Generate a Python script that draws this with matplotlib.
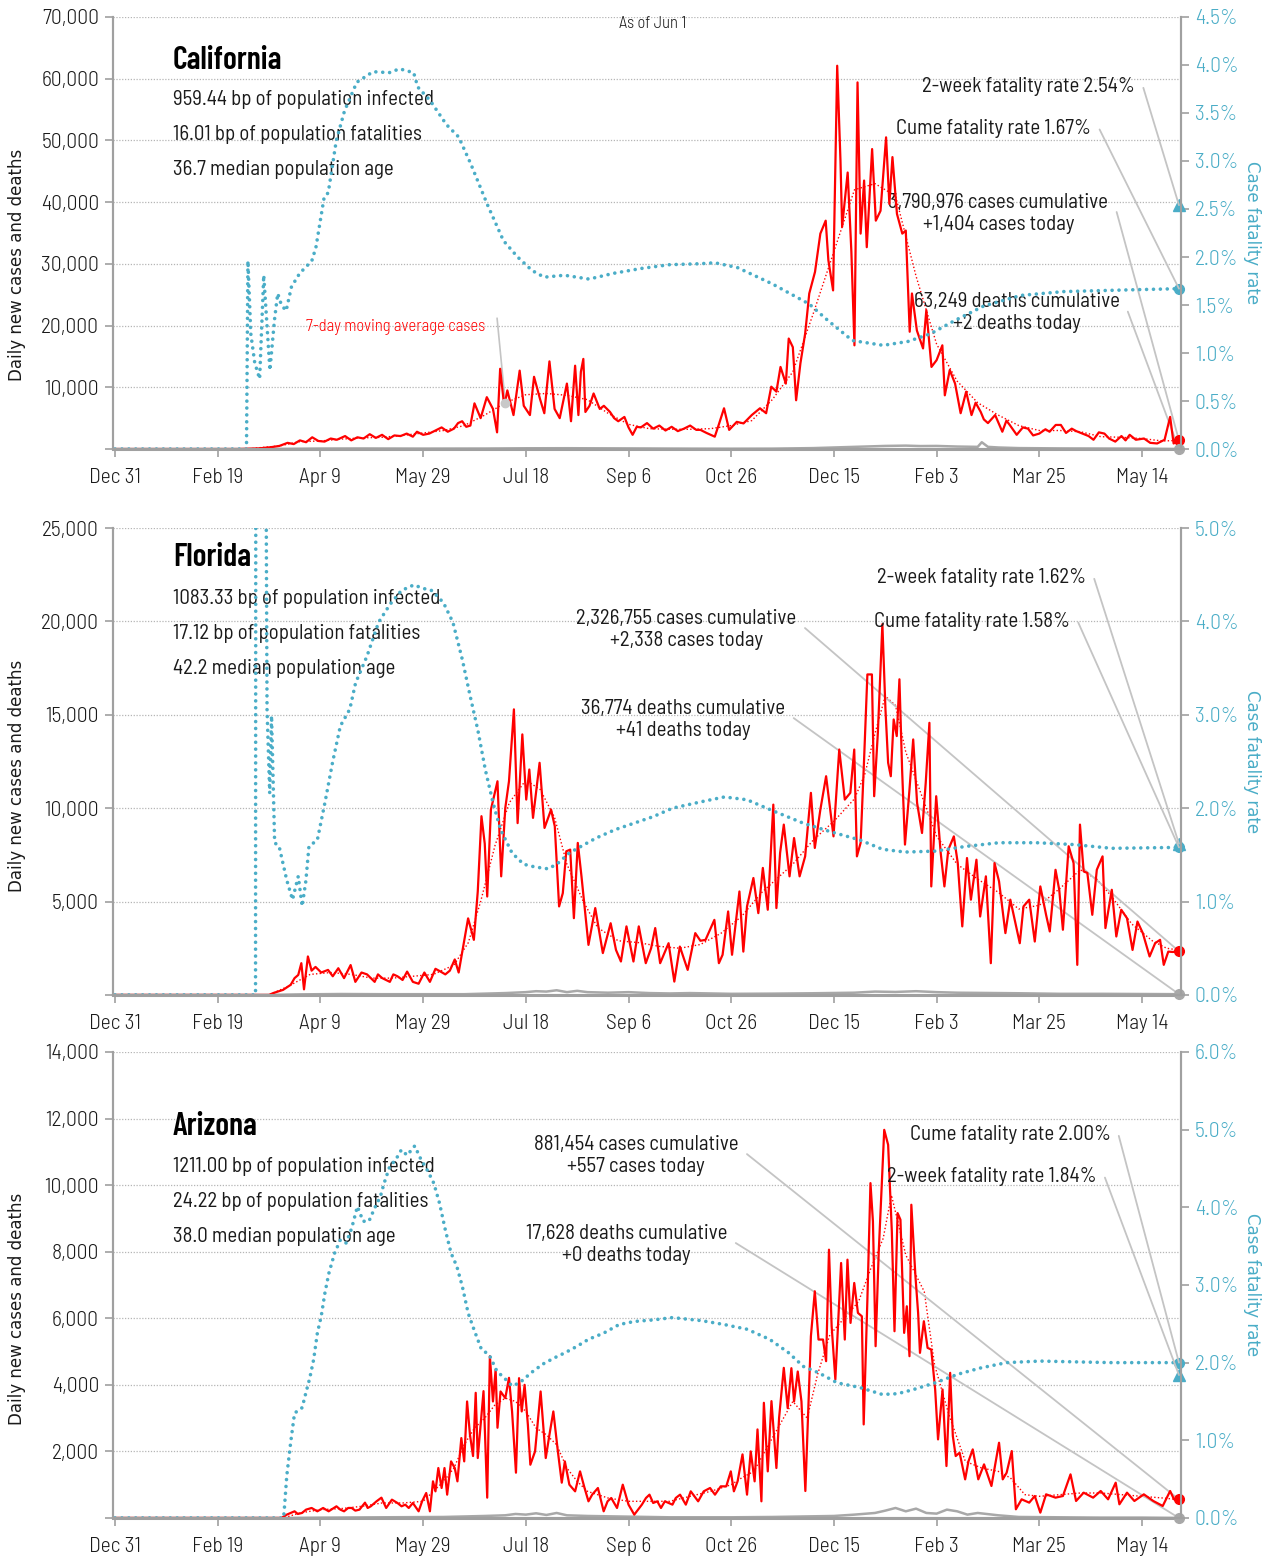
import matplotlib
matplotlib.use("Agg")
import matplotlib.pyplot as plt

# ---- California ----
ca_case_d = [0, 60, 70, 76, 80, 84, 87, 90, 93, 96, 99, 102, 105, 108, 112, 115, 118, 121, 124, 127, 130, 133, 136, 139,
             142, 145, 147, 150, 153, 156, 159, 162, 165, 167, 169, 171, 173, 175, 178, 181, 184, 186, 187.5, 189.5, 191,
             194, 197, 199, 202, 204, 207, 209, 211.5, 214, 216.5, 220, 222, 224, 225.6, 226.8, 228, 229, 231, 233, 236,
             238, 241, 243, 245, 248, 250, 252, 254, 256, 259, 262, 265, 268, 271, 274, 277, 280, 283, 285, 288, 292,
             294, 296.5, 299, 302.7, 306, 310, 314, 317, 319.5, 322, 324, 326.6, 328, 330, 331.6, 333.7, 336, 338,
             340.8, 343.4, 346, 347.3, 349.6, 351.6, 353.2, 354, 356.7, 358.5, 360, 361.5, 363, 364.7, 366, 368.6,
             370.4, 372.7, 375.4, 377, 378.5, 380.7, 383.3, 385, 386.9, 388, 390.4, 393.4, 395, 397.5, 400, 402.8, 404,
             406.4, 409, 411.7, 414.4, 417, 419, 421.5, 423, 425, 428.5, 432, 434, 435.6, 439, 442, 444.5, 447, 450,
             453, 455, 458, 460.5, 463, 465.8, 468, 471, 474, 476.4, 479, 481.7, 484, 487, 490, 492, 494, 497, 501,
             504, 507.4, 511, 513.7, 515.4, 518]
ca_case_v = [0, 0, 100, 300, 500, 1000, 800, 1400, 1100, 1900, 1300, 1200, 1700, 1500, 2100, 1400, 1900, 1700, 2400,
             1800, 2300, 1600, 2200, 2100, 2500, 2000, 2800, 2300, 2500, 3000, 3500, 2800, 3300, 4200, 4500, 3600, 3800,
             7400, 5000, 8400, 6500, 2700, 13000, 6900, 9500, 5500, 12700, 7000, 5500, 11700, 8000, 5800, 14200, 6500,
             5000, 10600, 4500, 13500, 5500, 12500, 14600, 6000, 7000, 9000, 6500, 7000, 6000, 5000, 4500, 5200, 3500,
             2300, 3600, 3500, 4200, 3300, 3800, 3000, 3600, 2900, 3300, 3800, 3100, 3100, 2600, 2000, 4000, 6600,
             3100, 4400, 4150, 5500, 6600, 5800, 10100, 9300, 13300, 10600, 17900, 16500, 7900, 13900, 18700, 25200,
             28700, 34900, 37000, 30600, 25700, 62100, 46700, 36000, 44800, 32000, 16800, 59400, 34900, 43500, 32700,
             48600, 37000, 38600, 50500, 39700, 47300, 38100, 34900, 35400, 19000, 25200, 19200, 16300, 22500, 13300,
             14400, 16800, 8700, 12800, 10600, 5800, 9300, 5500, 7500, 6000, 4800, 4200, 5500, 2800, 4600, 3900, 2300,
             3500, 3300, 2200, 2500, 3200, 2800, 3900, 3900, 2600, 3300, 2900, 2500, 2100, 1500, 2700, 2500, 1700,
             1200, 2100, 1400, 2300, 1500, 1700, 1000, 900, 1500, 5200, 900, 1404]
ca_avg_d = [0, 65, 70, 80, 90, 100, 110, 120, 130, 140, 150, 160, 170, 180, 190, 200, 210, 220, 230, 240, 250, 260,
            270, 280, 290, 300, 310, 320, 330, 340, 350, 360, 370, 380, 390, 400, 410, 420, 430, 440, 450, 460, 470,
            480, 490, 500, 510, 518]
ca_avg_v = [0, 0, 200, 500, 1200, 1300, 1600, 1800, 1900, 2200, 2600, 3000, 3800, 5500, 7500, 8800, 9000, 8700, 8000,
            5800, 4000, 3300, 3200, 3200, 3300, 3800, 4600, 8000, 12500, 22000, 32000, 42000, 43000, 41000, 28000,
            17000, 11000, 7500, 5500, 3800, 3000, 3000, 2800, 2000, 1900, 1700, 1300, 1400]
ca_cfr_d = [0, 64, 64.7, 66.1, 68, 70.4, 72.4, 75.4, 77.6, 79.2, 81, 83.3, 85.9, 89.9, 95.8, 97.8, 101.8, 103.8, 107.7,
            111.7, 117.7, 125.6, 133.5, 138.5, 145.4, 147.4, 153.4, 161.3, 167.3, 173.2, 181.2, 189.1, 196, 203,
            208.9, 218.8, 230.8, 242.7, 256, 270, 285, 292, 303, 320, 338, 347, 359, 374, 386, 397, 409, 423, 441,
            462, 480, 498, 518]
ca_cfr_v = [0, 0, 1.96, 1.2, 0.9, 0.73, 1.81, 0.82, 1.34, 1.62, 1.5, 1.44, 1.69, 1.83, 1.96, 2.1, 2.62, 2.67, 3.21,
            3.52, 3.82, 3.93, 3.92, 3.96, 3.92, 3.77, 3.63, 3.38, 3.25, 2.97, 2.55, 2.17, 2.0, 1.86, 1.79, 1.81, 1.77,
            1.83, 1.88, 1.92, 1.93, 1.94, 1.89, 1.72, 1.51, 1.34, 1.13, 1.08, 1.12, 1.20, 1.34, 1.49, 1.60, 1.64,
            1.65, 1.66, 1.67]
ca_death_d = [0, 70, 80, 100, 120, 150, 180, 200, 220, 250, 280, 300, 320, 340, 355, 365, 375, 385, 392, 400, 410,
              420, 422, 425, 430, 440, 460, 480, 500, 518]
ca_death_v = [0, 0, 20, 80, 90, 70, 80, 120, 130, 100, 60, 50, 60, 150, 300, 400, 500, 550, 480, 500, 400, 350, 1100,
              350, 250, 150, 100, 80, 60, 2]
ca_cfr_2wk, ca_cfr_cume = 2.54, 1.67
ca_cases_cum, ca_cases_today = 3790976, 1404
ca_deaths_cum, ca_deaths_today = 63249, 2
ca_stats = [959.44, 16.01, 36.7]

# ---- Florida ----
fl_case_d = [0, 75, 77, 81.8, 85.5, 87.4, 89.2, 90.7, 92, 93.9, 95.7, 97.6, 100.4, 103.7, 106, 108.7, 111.5, 114.7,
             117, 120, 122.7, 126.4, 128, 130.1, 133.8, 135.5, 137.5, 140, 142.2, 145, 147.8, 150.6, 153.3, 156, 158.5,
             160.8, 163, 165.4, 167.3, 169.5, 171.9, 174.7, 176.6, 178.4, 180, 181.2, 183, 186.2, 188, 190, 191.8,
             194.2, 196, 198.3, 200.2, 201.7, 203.5, 206.7, 209.1, 212.3, 214.1, 216.2, 218, 219.7, 221.6, 223.4,
             225.3, 227.1, 230.5, 233.8, 237.5, 241.3, 243.9, 246.3, 249, 252.4, 255, 258.4, 261, 263, 265.4, 269.5,
             272.3, 275, 278.8, 282.5, 285, 287.5, 291.8, 294, 295.8, 298.5, 300.4, 304, 305.9, 307.7, 310.8, 313.2,
             315.4, 317.8, 320.5, 322, 323.8, 325.6, 328.4, 330.6, 333.3, 336, 338.8, 340.7, 343.4, 346.2, 349.8,
             352.6, 355.3, 358, 359.9, 361.2, 363, 364.5, 366.3, 368.5, 369.6, 371.4, 373.6, 375.1, 376.4, 377.7,
             379.1, 380.6, 381.9, 383.2, 384.6, 386.8, 388.6, 390.5, 392.9, 394.7, 396.5, 397.4, 399.8, 402, 403.8,
             405.7, 408.4, 410.3, 412.5, 414.8, 416.7, 419.4, 421.2, 424, 426.4, 428.2, 430.4, 433.5, 435.9, 440.5,
             442.3, 445.1, 447.8, 450.5, 453.3, 455.1, 457.9, 459.7, 461.5, 464.3, 466.7, 468.5, 469.8, 471.6, 473.4,
             475.8, 478, 480.8, 482.2, 485.3, 487.5, 489.9, 492.7, 495.4, 497.8, 500.4, 503.7, 506.4, 508.8, 510.6,
             512.8, 515, 518]
fl_case_v = [0, 0, 100, 270, 540, 900, 1070, 1700, 300, 2060, 1300, 1500, 1200, 1340, 1000, 1430, 900, 1600, 700,
             1200, 1100, 700, 1100, 900, 700, 1100, 1000, 800, 1250, 700, 600, 1200, 700, 1400, 1250, 1100, 1300, 1900,
             1200, 2600, 4100, 2950, 5540, 9570, 8100, 5270, 9920, 11440, 6350, 10010, 11440, 15290, 9200, 13950,
             10460, 12070, 9480, 12430, 8940, 9920, 9030, 4740, 5450, 7690, 7780, 4110, 8140, 6350, 2680, 4650, 2240,
             3840, 2410, 1790, 3670, 1790, 3670, 1700, 2500, 3580, 1700, 2770, 715, 2590, 1340, 3310, 2900, 2950,
             4020, 1700, 2150, 4470, 2150, 5540, 2320, 4740, 6260, 4380, 6800, 4560, 10190, 4650, 7600, 9120, 6350,
             8400, 6350, 7420, 10820, 7870, 9920, 11710, 8490, 13140, 10460, 10820, 13140, 7420, 8140, 12070, 17160,
             17160, 10640, 14040, 19850, 15290, 12430, 11710, 14750, 13860, 16900, 12070, 8050, 11000, 13680, 10280,
             8670, 11350, 14570, 5810, 10640, 7600, 5810, 7780, 8490, 7060, 3670, 7330, 5100, 7240, 4200, 6350, 1700,
             7060, 6080, 3310, 5100, 2770, 4740, 5100, 2860, 5810, 4290, 3400, 6700, 5630, 3490, 7960, 7060, 1610,
             9120, 6620, 6530, 4290, 6700, 7420, 3580, 5630, 3130, 4560, 4110, 2410, 3930, 3310, 2060, 2770, 2950,
             1610, 2320, 2300, 2338]
fl_avg_d = [0, 75, 85, 95, 105, 115, 125, 135, 145, 155, 165, 172, 178, 185, 192, 200, 207, 214, 220, 228, 235, 245,
            255, 265, 275, 285, 295, 305, 315, 320, 330, 340, 350, 360, 365, 370, 375, 380, 385, 390, 400, 410, 420,
            430, 440, 450, 460, 470, 478, 485, 495, 505, 512, 518]
fl_avg_v = [0, 0, 500, 1100, 1200, 1100, 900, 900, 1000, 1100, 1600, 2800, 5000, 8000, 10300, 11500, 11000, 9500,
            7000, 5000, 3600, 2900, 2800, 2600, 2500, 2700, 3300, 4200, 5500, 6000, 7000, 8300, 9300, 10500, 11800,
            14000, 16000, 15500, 13000, 11500, 8500, 7000, 6200, 5500, 4600, 4800, 5700, 6700, 6200, 5300, 3800, 2900,
            2500, 2400]
fl_cfr_d = [0, 68, 68.4, 68.6, 72.9, 74, 75.3, 76.2, 77.7, 79.9, 83.6, 86.4, 89.2, 91.1, 92.9, 94.4, 98.5, 102.2,
            105.9, 109.7, 114.3, 117.1, 122.7, 128.3, 133.8, 139.4, 145.4, 150.6, 154.3, 159.9, 164.5, 169.1, 172.9,
            176.6, 180.3, 184, 187.7, 193.3, 198.9, 204.5, 211, 215.6, 221.2, 226.8, 234.2, 243.5, 252.8, 262.1,
            271.4, 285.7, 296.7, 307.7, 320.5, 335, 348, 362.6, 373.6, 384.6, 399.3, 414, 430.4, 448.7, 467, 485.3,
            518]
fl_cfr_v = [0, 0, 0, 9, 9, 3.06, 2.16, 2.99, 1.63, 1.59, 1.23, 1.02, 1.27, 0.95, 1.22, 1.59, 1.66, 2.06, 2.49, 2.88,
            3.06, 3.34, 3.63, 3.99, 4.18, 4.33, 4.39, 4.35, 4.33, 4.20, 3.99, 3.59, 3.2, 2.84, 2.41, 2.06, 1.77, 1.52,
            1.40, 1.37, 1.35, 1.41, 1.52, 1.59, 1.68, 1.77, 1.84, 1.91, 2.0, 2.07, 2.12, 2.09, 1.97, 1.84, 1.75,
            1.66, 1.56, 1.53, 1.54, 1.59, 1.63, 1.63, 1.61, 1.57, 1.58]
fl_death_d = [0, 75, 90, 110, 130, 150, 170, 190, 200, 205, 210, 215, 220, 225, 230, 240, 250, 260, 270, 280, 300,
              320, 340, 360, 370, 380, 390, 400, 410, 420, 440, 460, 480, 500, 518]
fl_death_v = [0, 0, 30, 50, 40, 40, 40, 100, 150, 200, 180, 250, 150, 220, 150, 120, 150, 100, 80, 100, 60, 70, 90,
              120, 180, 160, 200, 150, 120, 110, 90, 60, 60, 50, 41]
fl_cfr_2wk, fl_cfr_cume = 1.62, 1.58
fl_cases_cum, fl_cases_today = 2326755, 2338
fl_deaths_cum, fl_deaths_today = 36774, 41
fl_stats = [1083.33, 17.12, 42.2]

# ---- Arizona ----
az_case_d = [0, 81, 83.6, 85.5, 87.4, 89, 91, 93, 95.7, 98.5, 101.3, 104, 106, 107.8, 109.7, 111.5, 113.5, 115.2, 117,
             119, 121.7, 123, 124.5, 127.3, 129.7, 132, 134.8, 137.5, 139.5, 141.3, 143, 145, 147.8, 149.5, 151.5,
             153.3, 154.8, 156, 157.4, 159, 160.4, 161.7, 163.6, 165.4, 166.7, 168.6, 170, 171.4, 172.8, 174.3, 175.6,
             176.6, 178, 179.4, 181.2, 182.5, 184, 185.3, 186.2, 187.7, 190, 191.8, 193.3, 195.2, 196.7, 198, 199.4,
             201, 202.2, 204.5, 207.2, 209.7, 211.5, 213.4, 215.6, 217.5, 219, 221.2, 224, 226.4, 228.6, 230.5, 232.3,
             235.1, 237.9, 239.8, 241.6, 244.4, 247.2, 250, 252.8, 256.5, 258.5, 260.2, 262, 264, 265.8, 267.7, 271.4,
             273, 275.1, 277.9, 280.3, 283.9, 286.6, 289.7, 292.1, 294.9, 297.6, 299.8, 301.3, 303.1, 305.5, 307.7,
             309.5, 311.4, 312.8, 314.7, 315.9, 317.8, 319.6, 322, 323.3, 325.6, 327.5, 329.3, 330.6, 332.4, 334.2,
             336.1, 338.8, 340.7, 342.5, 344.7, 346.2, 347.6, 348.9, 350.7, 353.5, 355.3, 356.6, 358.1, 359.9, 361.7,
             363.6, 364.5, 366.3, 367.8, 369, 370.3, 371.8, 374.5, 376.4, 378.2, 379.5, 381, 382.4, 384.2, 385.5,
             386.8, 387.7, 389.7, 391, 391.9, 393.8, 395.6, 397.4, 399.3, 400.7, 402.9, 404.8, 406.6, 407.9, 409.3,
             411.2, 413.9, 415.5, 417.6, 420.3, 423.1, 426.7, 430.4, 432.2, 434.1, 436.6, 438.6, 441.4, 445.1, 447.8,
             450.5, 453.3, 457.9, 461.5, 465.2, 467.9, 471.6, 476.2, 479.9, 483.5, 487.2, 489, 492.7, 496.3, 500.9,
             505.5, 510.1, 513.7, 515.6, 518]
az_case_v = [0, 0, 100, 150, 200, 120, 150, 250, 300, 200, 300, 200, 280, 350, 250, 200, 300, 300, 220, 250, 460, 300,
             350, 500, 610, 300, 550, 450, 350, 400, 300, 450, 200, 500, 750, 200, 1100, 800, 1500, 900, 1500, 700,
             1700, 1500, 1100, 2400, 1700, 3500, 2500, 1860, 3760, 1800, 2800, 3810, 610, 4860, 3500, 4460, 2710,
             3800, 3600, 4210, 3200, 1360, 4200, 3200, 4000, 2800, 1600, 2000, 3800, 1800, 2500, 3200, 2000, 1060,
             1700, 1000, 800, 1400, 900, 500, 700, 900, 200, 500, 600, 300, 1000, 400, 100, 400, 600, 700, 450, 500,
             300, 500, 400, 600, 700, 400, 800, 500, 800, 900, 700, 950, 950, 1400, 800, 1100, 1910, 700, 2000, 1100,
             2660, 500, 3460, 1400, 3510, 1500, 3000, 4510, 3300, 4500, 3500, 4400, 3500, 810, 5460, 6810, 5360, 5360,
             4710, 8060, 5760, 4160, 7660, 5360, 7760, 5860, 7060, 6160, 6060, 2810, 6560, 10060, 8910, 5160, 7960,
             11660, 11210, 8610, 5610, 9160, 8960, 5560, 6360, 4860, 9410, 7260, 6160, 4960, 5910, 5110, 5060, 3860,
             2360, 3860, 1560, 4360, 2460, 1860, 1960, 1160, 1700, 2060, 1160, 1610, 960, 2260, 1160, 1360, 2010, 260,
             560, 460, 660, 160, 710, 610, 660, 1310, 510, 760, 610, 810, 560, 1060, 410, 760, 510, 710, 510, 360, 810,
             560, 557]
az_avg_d = [0, 82, 90, 100, 110, 120, 130, 140, 150, 155, 160, 165, 170, 175, 180, 185, 190, 195, 200, 205, 210, 215,
            220, 225, 230, 240, 250, 260, 270, 280, 290, 300, 305, 311, 320, 330, 337, 342, 348, 355, 362, 368, 374,
            378, 385, 394, 399, 406, 414, 422, 430, 436, 443, 450, 460, 470, 480, 490, 500, 510, 518]
az_avg_v = [0, 0, 150, 250, 280, 350, 450, 450, 500, 800, 1100, 1500, 2200, 2700, 3000, 3400, 3600, 3500, 3200, 2700,
            2500, 2200, 1500, 1100, 800, 600, 500, 500, 500, 650, 800, 1000, 1200, 1400, 2400, 3500, 3000, 4300, 5500,
            6000, 6500, 7500, 8400, 9700, 7900, 6800, 4600, 3100, 1700, 1500, 1400, 1200, 700, 650, 700, 750, 750,
            700, 650, 600, 550]
az_cfr_d = [0, 82, 82.3, 83.6, 85.5, 87.4, 89, 91.1, 92.9, 94.8, 96.7, 98.5, 100.4, 102.2, 104.1, 106.9, 109.7, 112.5,
            115.2, 118, 120.8, 123.6, 126.4, 129.2, 131, 133.8, 136.6, 139.4, 142.2, 145.9, 148.7, 152.4, 155.2, 158,
            160.8, 163.6, 166.4, 169.1, 171.9, 174.7, 178.4, 182.2, 185.9, 189.6, 193.3, 197, 202.6, 208.2, 213.8,
            219.3, 224.9, 230.5, 237.9, 245.4, 252.8, 262.1, 271.4, 285.7, 296.7, 307.7, 318.7, 327.8, 335.2, 342.5,
            351.6, 362.6, 373.6, 381, 388.3, 399.3, 410.3, 421.2, 434, 450.5, 467, 485.3, 518]
az_cfr_v = [0, 0, 0.07, 0.54, 0.97, 1.35, 1.38, 1.42, 1.61, 1.8, 2.04, 2.38, 2.6, 2.9, 3.15, 3.41, 3.58, 3.54, 3.73,
            4.01, 3.82, 3.82, 3.99, 4.14, 4.31, 4.53, 4.61, 4.74, 4.67, 4.79, 4.63, 4.46, 4.31, 4.05, 3.71, 3.41,
            3.24, 2.98, 2.64, 2.43, 2.17, 2.1, 1.89, 1.8, 1.7, 1.74, 1.87, 1.98, 2.06, 2.13, 2.21, 2.3, 2.38, 2.49,
            2.53, 2.55, 2.58, 2.54, 2.49, 2.43, 2.30, 2.13, 1.95, 1.87, 1.74, 1.68, 1.59, 1.60, 1.65, 1.74, 1.85,
            1.93, 2.0, 2.02, 2.01, 2.0, 2.0]
az_death_d = [0, 84, 100, 130, 160, 180, 190, 195, 200, 205, 210, 215, 220, 230, 250, 270, 300, 320, 340, 350, 360,
              370, 375, 380, 385, 390, 395, 400, 405, 410, 415, 420, 430, 440, 460, 480, 500, 518]
az_death_v = [0, 0, 10, 20, 30, 60, 80, 120, 100, 140, 90, 150, 80, 60, 40, 20, 20, 30, 50, 60, 100, 150, 220, 300,
              200, 280, 150, 130, 250, 200, 100, 150, 80, 30, 20, 10, 10, 0]
az_cfr_2wk, az_cfr_cume = 1.84, 2.00
az_cases_cum, az_cases_today = 881454, 557
az_deaths_cum, az_deaths_today = 17628, 0
az_stats = [1211.00, 24.22, 38.0]

tick_days = [0, 50, 100, 150, 200, 250, 300, 350, 400, 450, 500]
tick_labels = ["Dec 31", "Feb 19", "Apr 9", "May 29", "Jul 18", "Sep 6", "Oct 26", "Dec 15", "Feb 3", "Mar 25", "May 14"]

BLUE = "#4aadc7"
RED = "#ff0000"
GRAY = "#a8a8a8"
LINEGRAY = "#c4c4c4"
SPINE = "#a0a0a0"
TXT = "#1a1a1a"

plt.rcParams["font.family"] = ["Barlow Semi Condensed", "DejaVu Sans"]
plt.rcParams["font.weight"] = 300

states = [
    dict(name="California", cd=ca_case_d, cv=ca_case_v, ad=ca_avg_d, av=ca_avg_v, fd=ca_cfr_d, fv=ca_cfr_v,
         dd=ca_death_d, dv=ca_death_v, wk=ca_cfr_2wk, cume=ca_cfr_cume, ccum=ca_cases_cum, ctod=ca_cases_today,
         dcum=ca_deaths_cum, dtod=ca_deaths_today, stats=ca_stats, ymax=70000, ystep=10000, rmax=4.5, rstep=0.5,
         pos=[0.0889, 0.7118, 0.8403, 0.2773], title_y=0.900, stat_y=[0.808, 0.727, 0.646], ylab_y=0.426,
         wk_xy=(0.957, 0.838), cume_xy=(0.916, 0.741), cases_xy=(0.829, 0.546), deaths_xy=(0.846, 0.315)),
    dict(name="Florida", cd=fl_case_d, cv=fl_case_v, ad=fl_avg_d, av=fl_avg_v, fd=fl_cfr_d, fv=fl_cfr_v,
         dd=fl_death_d, dv=fl_death_v, wk=fl_cfr_2wk, cume=fl_cfr_cume, ccum=fl_cases_cum, ctod=fl_cases_today,
         dcum=fl_deaths_cum, dtod=fl_deaths_today, stats=fl_stats, ymax=25000, ystep=5000, rmax=5.0, rstep=1.0,
         pos=[0.0889, 0.3614, 0.8403, 0.2997], title_y=0.936, stat_y=[0.850, 0.775, 0.700], ylab_y=0.469,
         wk_xy=(0.911, 0.893), cume_xy=(0.896, 0.799), cases_xy=(0.537, 0.782), deaths_xy=(0.534, 0.589)),
    dict(name="Arizona", cd=az_case_d, cv=az_case_v, ad=az_avg_d, av=az_avg_v, fd=az_cfr_d, fv=az_cfr_v,
         dd=az_death_d, dv=az_death_v, wk=az_cfr_2wk, cume=az_cfr_cume, ccum=az_cases_cum, ctod=az_cases_today,
         dcum=az_deaths_cum, dtod=az_deaths_today, stats=az_stats, ymax=14000, ystep=2000, rmax=6.0, rstep=1.0,
         pos=[0.0889, 0.0257, 0.8403, 0.2991], title_y=0.839, stat_y=[0.755, 0.680, 0.605], ylab_y=0.449,
         wk_xy=(0.921, 0.732), cume_xy=(0.934, 0.822), cases_xy=(0.490, 0.777), deaths_xy=(0.481, 0.586)),
]


def connector(relpos):
    return dict(arrowstyle="-", color=LINEGRAY, lw=1.3, shrinkA=4, shrinkB=0, relpos=relpos,
                connectionstyle="arc,angleA=0,angleB=0,armA=8,armB=0,rad=0")


fig = plt.figure(figsize=(12.71, 15.58), dpi=100)

for i, s in enumerate(states):
    ax = fig.add_axes(s["pos"])
    ax2 = ax.twinx()
    last = s["cd"][-1]

    ax.plot(s["dd"], s["dv"], color=GRAY, lw=1.8, zorder=2)
    ax.plot(s["ad"], s["av"], color=RED, lw=1.0, ls=(0, (1, 1.6)), zorder=3)
    ax.plot(s["cd"], s["cv"], color=RED, lw=1.6, zorder=4)
    ax.plot([last], [s["ctod"]], "o", color=RED, ms=7, clip_on=False, zorder=6)
    ax.plot([last], [s["dtod"]], "o", color=GRAY, ms=7, clip_on=False, zorder=6)

    ax2.plot(s["fd"], s["fv"], color=BLUE, lw=2.6, ls=(0, (0.01, 1.9)), dash_capstyle="round")
    ax2.plot([last], [s["wk"]], "^", color=BLUE, ms=8, clip_on=False)
    ax2.plot([last], [s["cume"]], "o", color=BLUE, ms=7, clip_on=False)

    ax.set_xlim(-1, 519)
    ax.set_ylim(0, s["ymax"])
    ax2.set_ylim(0, s["rmax"])

    yt = list(range(0, s["ymax"] + 1, s["ystep"]))
    ax.set_yticks(yt)
    ax.set_yticklabels([""] + [f"{v:,}" for v in yt[1:]])
    nr = int(round(s["rmax"] / s["rstep"]))
    rt = [k * s["rstep"] for k in range(nr + 1)]
    ax2.set_yticks(rt)
    ax2.set_yticklabels([f"{v:.1f}%" for v in rt])
    ax.set_xticks(tick_days)
    ax.set_xticklabels(tick_labels)

    ax.grid(axis="y", color="#b5b5b5", lw=0.9, ls=(0, (1, 1.3)))
    for a in (ax, ax2):
        a.spines["top"].set_visible(False)
        for side in ("left", "right", "bottom"):
            a.spines[side].set_color(SPINE)
            a.spines[side].set_linewidth(1.5)
    ax.spines["bottom"].set_linewidth(2.2)
    ax.tick_params(axis="y", length=6, width=1.2, color=SPINE, labelsize=15.5, labelcolor=TXT, pad=4)
    ax.tick_params(axis="x", length=6, width=1.2, color=SPINE, labelsize=15.5, labelcolor=TXT, pad=8)
    ax2.tick_params(axis="y", length=6, width=1.2, color=SPINE, labelsize=15.5, labelcolor=BLUE, pad=4)

    ax.set_ylabel("Daily new cases and deaths", family="DejaVu Sans", fontweight="normal", fontsize=12,
                  color=TXT)
    ax.yaxis.set_label_coords(-0.081, s["ylab_y"])
    ax2.set_ylabel("Case fatality rate", family="DejaVu Sans", fontweight="normal", fontsize=12, color=BLUE,
                   rotation=-90, va="bottom")
    ax2.yaxis.set_label_coords(1.058, 0.5)

    tr = ax.transAxes
    ax.text(0.056, s["title_y"], s["name"], transform=tr, fontsize=23, fontweight=600, color="black",
            family=["Barlow Condensed", "DejaVu Sans"], ha="left", va="center")
    lines = [f"{s['stats'][0]:.2f} bp of population infected",
             f"{s['stats'][1]:.2f} bp of population fatalities",
             f"{s['stats'][2]:.1f} median population age"]
    for txt, yy in zip(lines, s["stat_y"]):
        ax.text(0.056, yy, txt, transform=tr, fontsize=15, fontweight=400, color=TXT, ha="left", va="center")

    ax2.annotate(f"2-week fatality rate {s['wk']:.2f}%", xy=(last, s["wk"]), xytext=s["wk_xy"],
                 textcoords="axes fraction", ha="right", va="center", fontsize=15, fontweight=400, color=TXT,
                 arrowprops=connector((1, 0.5)))
    ax2.annotate(f"Cume fatality rate {s['cume']:.2f}%", xy=(last, s["cume"]), xytext=s["cume_xy"],
                 textcoords="axes fraction", ha="right", va="center", fontsize=15, fontweight=400, color=TXT,
                 arrowprops=connector((1, 0.5)))
    ax.annotate(f"{s['ccum']:,} cases cumulative\n+{s['ctod']:,} cases today", xy=(last, s["ctod"]),
                xytext=s["cases_xy"], textcoords="axes fraction", fontweight=400,
                ha="center", va="center", multialignment="center", fontsize=15, color=TXT, linespacing=1.2,
                arrowprops=connector((1, 0.55)))
    ax.annotate(f"{s['dcum']:,} deaths cumulative\n+{s['dtod']:,} deaths today", xy=(last, s["dtod"]),
                xytext=s["deaths_xy"], textcoords="axes fraction", fontweight=400,
                ha="center", va="center", multialignment="center", fontsize=15, color=TXT, linespacing=1.2,
                arrowprops=connector((1, 0.55)))

    if i == 0:
        ax.text(0.505, 0.984, "As of Jun 1", transform=tr, fontsize=12, color=TXT, ha="center", va="center")
        k = s["ad"].index(190)
        ax.text(0.265, 0.282, "7-day moving average cases", transform=tr, fontsize=12, color=RED,
                ha="center", va="center")
        ax.annotate("", xy=(s["ad"][k], s["av"][k]), xytext=(186, 21200),
                    arrowprops=dict(arrowstyle="-", color=LINEGRAY, lw=1.2, shrinkA=0, shrinkB=0))
        ax.plot([s["ad"][k]], [s["av"][k]], "o", color="#c8c8c8", ms=6, zorder=5)

fig.savefig("out.png", dpi=100, facecolor="white")
